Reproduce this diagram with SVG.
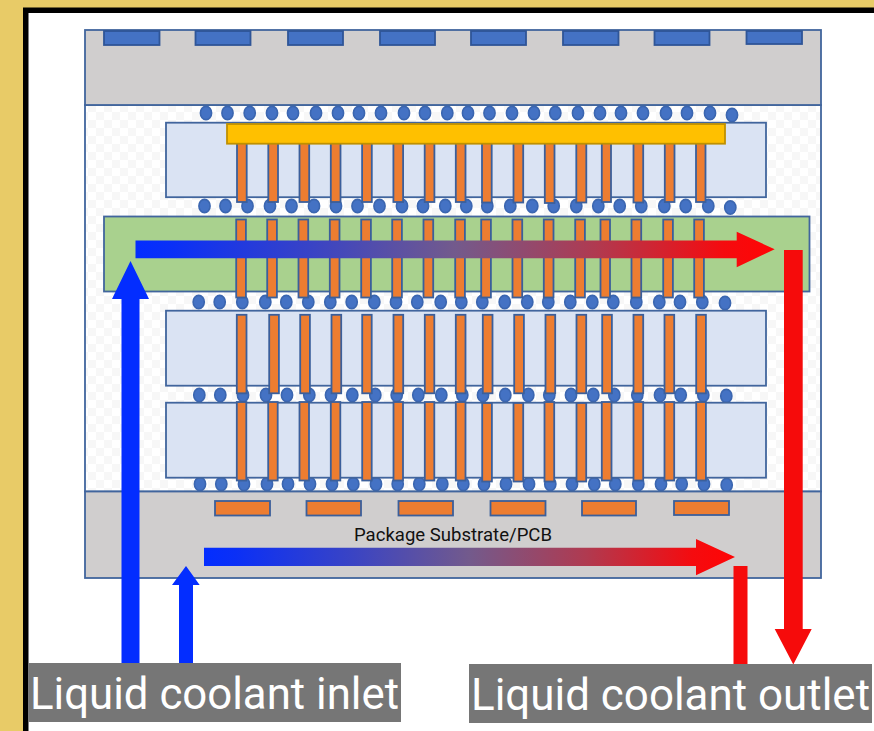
<svg xmlns="http://www.w3.org/2000/svg" width="874" height="731" viewBox="0 0 874 731">
<style>
.o{fill:#ED7D31;stroke:#3B5F9B;stroke-width:1.8}
.p{fill:#4472C4;stroke:#2F5597;stroke-width:1.8}
.g{fill:#D0CECE;stroke:#41659D;stroke-width:1.8}
.d{fill:#DAE3F3;stroke:#41659D;stroke-width:1.8}
.lb{fill:#767676}
.lt{font-family:Roboto,"Open Sans",sans-serif;font-size:44px;fill:#fff}
.blue{fill:#032DFF}
.red{fill:#F60B0B}
</style>
<defs>
<ellipse id="b" rx="5.6" ry="6.6" fill="#4472C4" stroke="#3B66B0" stroke-width="1.6"/>
<pattern id="chk" width="16" height="16" patternUnits="userSpaceOnUse">
<rect width="16" height="16" fill="#fff"/>
<rect width="8" height="8" fill="#F7F7F7"/>
<rect x="8" y="8" width="8" height="8" fill="#F7F7F7"/>
</pattern>
<linearGradient id="grad"><stop offset="0" stop-color="#032DFF"/><stop offset="0.06" stop-color="#0B30F6"/><stop offset="0.28" stop-color="#3A44C4"/><stop offset="0.5" stop-color="#735A8C"/><stop offset="0.72" stop-color="#B03A50"/><stop offset="0.92" stop-color="#F50B0F"/><stop offset="1" stop-color="#FF0505"/></linearGradient>
</defs>
<g id="frame">
<rect width="874" height="731" fill="#E8CB67"/>
<rect x="23" y="7.500" width="851" height="723.500" fill="#000"/>
<rect x="28.500" y="13" width="845.500" height="718" fill="#fff"/>
</g>
<g id="interposer"><rect x="85" y="105" width="736" height="386.500" fill="url(#chk)" stroke="#41659D" stroke-width="1.800"/></g>
<g id="top-substrate">
<rect class="g" x="85" y="30" width="736" height="75"/>
<rect class="p" x="104" y="31" width="55.500" height="14"/>
<rect class="p" x="195.500" y="31" width="55" height="14"/>
<rect class="p" x="288" y="31" width="55" height="14"/>
<rect class="p" x="380" y="31" width="55" height="14"/>
<rect class="p" x="471" y="31" width="55" height="14"/>
<rect class="p" x="563" y="31" width="55.500" height="14"/>
<rect class="p" x="654.500" y="31" width="55" height="14"/>
<rect class="p" x="746.500" y="31" width="55.500" height="13"/>
</g>
<g id="bumps-1">
<use href="#b" x="206" y="113"/><use href="#b" x="227.500" y="113"/><use href="#b" x="249.700" y="113"/><use href="#b" x="272" y="113"/><use href="#b" x="293" y="113"/><use href="#b" x="316" y="113"/><use href="#b" x="338" y="113"/><use href="#b" x="359" y="113"/><use href="#b" x="381" y="113"/><use href="#b" x="404" y="113"/><use href="#b" x="425" y="113"/><use href="#b" x="447.300" y="113"/><use href="#b" x="468" y="113"/><use href="#b" x="489.500" y="113"/><use href="#b" x="512" y="113"/><use href="#b" x="534" y="113"/><use href="#b" x="555.300" y="113"/><use href="#b" x="578" y="113"/><use href="#b" x="600" y="113"/><use href="#b" x="621" y="113"/><use href="#b" x="643" y="113"/><use href="#b" x="666" y="113"/><use href="#b" x="687" y="113"/><use href="#b" x="710" y="113"/><use href="#b" x="732" y="115"/>
</g>
<g id="bumps-2">
<use href="#b" x="204.500" y="206"/><use href="#b" x="225.500" y="206"/><use href="#b" x="247.500" y="206"/><use href="#b" x="270" y="206"/><use href="#b" x="291.500" y="206"/><use href="#b" x="314" y="206"/><use href="#b" x="336" y="206"/><use href="#b" x="357.500" y="206"/><use href="#b" x="379.500" y="206"/><use href="#b" x="402" y="206"/><use href="#b" x="423" y="206"/><use href="#b" x="445.300" y="206"/><use href="#b" x="466.300" y="206"/><use href="#b" x="487.300" y="206"/><use href="#b" x="510.300" y="206"/><use href="#b" x="532.300" y="206"/><use href="#b" x="553.700" y="206"/><use href="#b" x="576.300" y="206"/><use href="#b" x="598.300" y="206"/><use href="#b" x="619.700" y="206"/><use href="#b" x="641.300" y="206"/><use href="#b" x="664.300" y="206"/><use href="#b" x="685.700" y="206"/><use href="#b" x="708.300" y="206"/><use href="#b" x="730.300" y="207.500"/>
</g>
<g id="bumps-3">
<use href="#b" x="198.700" y="302"/><use href="#b" x="219.700" y="302"/><use href="#b" x="242.300" y="302"/><use href="#b" x="265.300" y="302"/><use href="#b" x="286.300" y="302"/><use href="#b" x="308.300" y="302"/><use href="#b" x="330.300" y="302"/><use href="#b" x="351.700" y="302"/><use href="#b" x="374.300" y="302"/><use href="#b" x="396" y="302"/><use href="#b" x="417.300" y="302"/><use href="#b" x="440.700" y="302"/><use href="#b" x="461.300" y="302"/><use href="#b" x="482.300" y="302"/><use href="#b" x="504.700" y="302"/><use href="#b" x="527.300" y="302"/><use href="#b" x="548.300" y="302"/><use href="#b" x="570.300" y="302"/><use href="#b" x="592.300" y="302"/><use href="#b" x="613.300" y="302"/><use href="#b" x="636.300" y="302"/><use href="#b" x="659.300" y="302"/><use href="#b" x="680" y="302"/><use href="#b" x="702.300" y="302"/><use href="#b" x="725" y="303"/>
</g>
<g id="bumps-4">
<use href="#b" x="199.300" y="395"/><use href="#b" x="220.300" y="395"/><use href="#b" x="243" y="395"/><use href="#b" x="266" y="395"/><use href="#b" x="287" y="395"/><use href="#b" x="309.300" y="395"/><use href="#b" x="331" y="395"/><use href="#b" x="352.300" y="395"/><use href="#b" x="375.300" y="395"/><use href="#b" x="396.700" y="395"/><use href="#b" x="418.300" y="395"/><use href="#b" x="441.300" y="395"/><use href="#b" x="462.300" y="395"/><use href="#b" x="483" y="395"/><use href="#b" x="505.300" y="395"/><use href="#b" x="528.300" y="395"/><use href="#b" x="549.300" y="395"/><use href="#b" x="571" y="395"/><use href="#b" x="593.300" y="395"/><use href="#b" x="614.300" y="395"/><use href="#b" x="637.300" y="395"/><use href="#b" x="660" y="395"/><use href="#b" x="680.700" y="395"/><use href="#b" x="703.300" y="395"/><use href="#b" x="726.300" y="396"/>
</g>
<g id="bumps-5">
<use href="#b" x="200" y="484"/><use href="#b" x="221.300" y="484"/><use href="#b" x="244" y="484"/><use href="#b" x="267" y="484"/><use href="#b" x="288" y="484"/><use href="#b" x="310" y="484"/><use href="#b" x="332" y="484"/><use href="#b" x="353.300" y="484"/><use href="#b" x="376" y="484"/><use href="#b" x="397.700" y="484"/><use href="#b" x="419.300" y="484"/><use href="#b" x="442.300" y="484"/><use href="#b" x="463.300" y="484"/><use href="#b" x="484" y="484"/><use href="#b" x="506" y="484"/><use href="#b" x="529" y="484"/><use href="#b" x="550.300" y="484"/><use href="#b" x="572" y="484"/><use href="#b" x="594.300" y="484"/><use href="#b" x="615.300" y="484"/><use href="#b" x="638.300" y="484"/><use href="#b" x="661" y="484"/><use href="#b" x="681.700" y="484"/><use href="#b" x="704" y="484"/><use href="#b" x="726.700" y="485"/>
</g>
<g id="die-top"><rect class="d" x="166" y="122.700" width="600" height="74.500"/></g>
<g id="die-mid"><rect class="d" x="166" y="310.700" width="600" height="75"/></g>
<g id="die-bottom"><rect class="d" x="166" y="402.700" width="600" height="75"/></g>
<g id="green-layer"><rect x="104" y="216.500" width="705.500" height="75" fill="#A9D18E" stroke="#41659D" stroke-width="1.800"/></g>
<g id="tsv-a">
<rect class="o" x="237" y="143" width="9.700" height="59"/><rect class="o" x="268.300" y="143" width="9.700" height="59"/><rect class="o" x="299.500" y="143" width="9.700" height="59"/><rect class="o" x="330.800" y="143" width="9.700" height="59"/><rect class="o" x="362.100" y="143" width="9.700" height="59"/><rect class="o" x="393.400" y="143" width="9.700" height="59"/><rect class="o" x="424.700" y="143" width="9.700" height="59"/><rect class="o" x="455.800" y="143" width="9.700" height="59"/><rect class="o" x="482" y="143" width="9.700" height="59.500"/><rect class="o" x="513.500" y="143" width="9.700" height="59.500"/><rect class="o" x="544.800" y="143" width="9.700" height="60"/><rect class="o" x="576.300" y="143" width="10" height="59.500"/><rect class="o" x="601.800" y="143" width="9.200" height="59"/><rect class="o" x="633.500" y="143" width="9.700" height="59.500"/><rect class="o" x="664.800" y="143" width="9.700" height="59"/><rect class="o" x="696" y="143" width="9.500" height="59"/>
</g>
<g id="tsv-b">
<rect class="o" x="236.200" y="219.500" width="9.700" height="78"/><rect class="o" x="267.200" y="219.500" width="9.700" height="78"/><rect class="o" x="298.500" y="219.500" width="9.700" height="78"/><rect class="o" x="329.800" y="219.500" width="9.700" height="78"/><rect class="o" x="361.200" y="219.500" width="9.700" height="78"/><rect class="o" x="392.200" y="219.500" width="9.700" height="78"/><rect class="o" x="423.500" y="219.500" width="9.700" height="78"/><rect class="o" x="455.200" y="219.500" width="9.700" height="78"/><rect class="o" x="481.200" y="219.500" width="9.700" height="78"/><rect class="o" x="512.500" y="219.500" width="9.700" height="78"/><rect class="o" x="543.800" y="219.500" width="9.700" height="78"/><rect class="o" x="575.200" y="219.500" width="9.700" height="78"/><rect class="o" x="600.500" y="219.500" width="9.500" height="78"/><rect class="o" x="631.500" y="219.500" width="9.700" height="78"/><rect class="o" x="663.200" y="219.500" width="9.700" height="78"/><rect class="o" x="694.200" y="219.500" width="9.700" height="78"/>
</g>
<g id="tsv-c">
<rect class="o" x="236.800" y="314.800" width="9.700" height="78.500"/><rect class="o" x="269.200" y="314.800" width="9.700" height="78.500"/><rect class="o" x="300.200" y="314.800" width="9.700" height="78.500"/><rect class="o" x="331.500" y="314.800" width="9.700" height="78.500"/><rect class="o" x="362.200" y="314.800" width="9.500" height="78.500"/><rect class="o" x="393.500" y="314.800" width="9.700" height="78.500"/><rect class="o" x="424.800" y="314.800" width="9.500" height="78.500"/><rect class="o" x="455.800" y="314.800" width="9.700" height="78.500"/><rect class="o" x="482.800" y="314.800" width="9.700" height="78.500"/><rect class="o" x="514.200" y="314.800" width="9.700" height="78.500"/><rect class="o" x="545.500" y="314.800" width="9.700" height="78.500"/><rect class="o" x="576.500" y="314.800" width="9.700" height="78.500"/><rect class="o" x="602.200" y="314.800" width="9.700" height="78.500"/><rect class="o" x="633.500" y="314.800" width="9.700" height="78.500"/><rect class="o" x="664.500" y="314.800" width="9.700" height="78.500"/><rect class="o" x="696.200" y="314.800" width="9.700" height="78.500"/>
</g>
<g id="tsv-d">
<rect class="o" x="236.800" y="402" width="9.500" height="78.500"/><rect class="o" x="268.200" y="402" width="9.500" height="78.500"/><rect class="o" x="299.500" y="402" width="9.500" height="78.500"/><rect class="o" x="330.800" y="402" width="9.500" height="78.500"/><rect class="o" x="362.200" y="402" width="9.500" height="78.500"/><rect class="o" x="393.500" y="402" width="9.500" height="78.500"/><rect class="o" x="424.800" y="402" width="9.500" height="78.500"/><rect class="o" x="455.800" y="402" width="9.700" height="78.500"/><rect class="o" x="482.200" y="403" width="9.700" height="78.500"/><rect class="o" x="513.500" y="403" width="9.700" height="78.500"/><rect class="o" x="544.500" y="402" width="9.700" height="79.500"/><rect class="o" x="576.500" y="403" width="9.700" height="78.500"/><rect class="o" x="601.800" y="402" width="9.700" height="78.500"/><rect class="o" x="633.500" y="402" width="9.700" height="78.500"/><rect class="o" x="664.500" y="402" width="9.700" height="78.500"/><rect class="o" x="696.200" y="402" width="9.700" height="78.500"/>
</g>
<g id="yellow-chip"><rect x="227" y="124" width="498" height="19.700" fill="#FFC000" stroke="#BF9000" stroke-width="1.800"/></g>
<g id="package-substrate">
<rect class="g" x="85" y="491.500" width="736" height="86.500"/>
<rect class="o" x="215" y="501" width="55" height="14.500"/>
<rect class="o" x="306.500" y="501" width="54.500" height="14.500"/>
<rect class="o" x="398.500" y="501" width="54.500" height="14.500"/>
<rect class="o" x="490.500" y="501" width="55" height="14.500"/>
<rect class="o" x="582" y="501" width="54" height="14.500"/>
<rect class="o" x="674" y="501" width="55" height="14"/>
<text x="354" y="541" font-family="Roboto,'Open Sans',sans-serif" font-size="17.500" fill="#111" textLength="198" lengthAdjust="spacingAndGlyphs">Package Substrate/PCB</text>
</g>
<g id="connectors">
<path class="blue" d="M121.500 663V299H112L130.500 261L149 299H139.500V663Z"/>
<path class="blue" d="M179 663V585H172L186 566L199.700 585H193V663Z"/>
<path fill="url(#grad)" d="M135.500 240.500H736.700V231.700L774.700 249.300L736.700 267.300V258.300H135.500Z"/>
<path fill="url(#grad)" d="M204 547.700H696V539L735 557L696 575.300V566H204Z"/>
<path class="red" d="M784 250H802.700V629H811.700L793.300 664.500L774.700 629H784Z"/>
<rect class="red" x="733.500" y="566" width="14" height="98"/>
</g>
<g id="label-inlet">
<rect class="lb" x="28.500" y="663" width="372.500" height="59"/>
<text class="lt" x="30" y="708.500" textLength="369" lengthAdjust="spacingAndGlyphs">Liquid coolant inlet</text>
</g>
<g id="label-outlet">
<rect class="lb" x="469" y="664" width="403" height="59"/>
<text class="lt" x="471" y="709.500" textLength="399" lengthAdjust="spacingAndGlyphs">Liquid coolant outlet</text>
</g>
</svg>
